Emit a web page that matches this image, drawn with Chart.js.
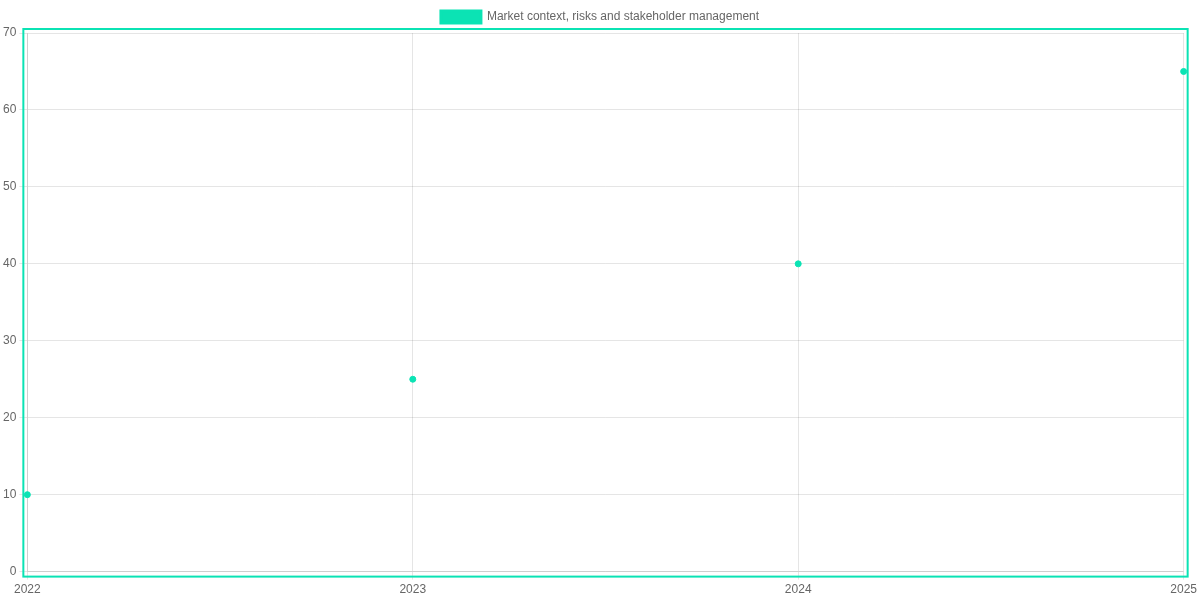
<!DOCTYPE html>
<html>
<head>
<meta charset="utf-8">
<script src="https://cdn.jsdelivr.net/npm/chart.js"></script>
<style>
  html, body { margin: 0; padding: 0; background: #fff; }
  .chart-container { width: 1200px; height: 600px; }
</style>
</head>
<body>
<div class="chart-container">
  <canvas id="progressChart"></canvas>
</div>
<script>
  const years = ["2022", "2023", "2024", "2025"];
  const scores = [10, 25, 40, 65];
  const seriesLabel = "Market context, risks and stakeholder management";
  const teal = "#0be3b4";

  // draws the teal frame round the plot area
  const areaFrame = {
    id: "areaFrame",
    afterDraw(chart) {
      const { ctx, chartArea } = chart;
      ctx.save();
      ctx.strokeStyle = teal;
      ctx.lineWidth = 2;
      ctx.strokeRect(chartArea.left - 4, chartArea.top - 4,
        chartArea.right - chartArea.left + 8, chartArea.bottom - chartArea.top + 9);
      ctx.restore();
    }
  };

  const ctx = document.getElementById("progressChart").getContext("2d");
  new Chart(ctx, {
    type: "line",
    data: {
      labels: years,
      datasets: [
        {
          label: seriesLabel,
          data: scores,
          borderColor: teal,
          backgroundColor: teal,
          borderWidth: 3,
          showLine: false,
          pointRadius: 3,
          pointBorderWidth: 1,
          pointHoverRadius: 4
        }
      ]
    },
    options: {
      responsive: true,
      maintainAspectRatio: false,
      animation: false,
      layout: { padding: { top: 1 } },
      scales: {
        y: {
          min: 0,
          max: 70,
          ticks: { stepSize: 10 }
        }
      }
    },
    plugins: [areaFrame]
  });
</script>
</body>
</html>
